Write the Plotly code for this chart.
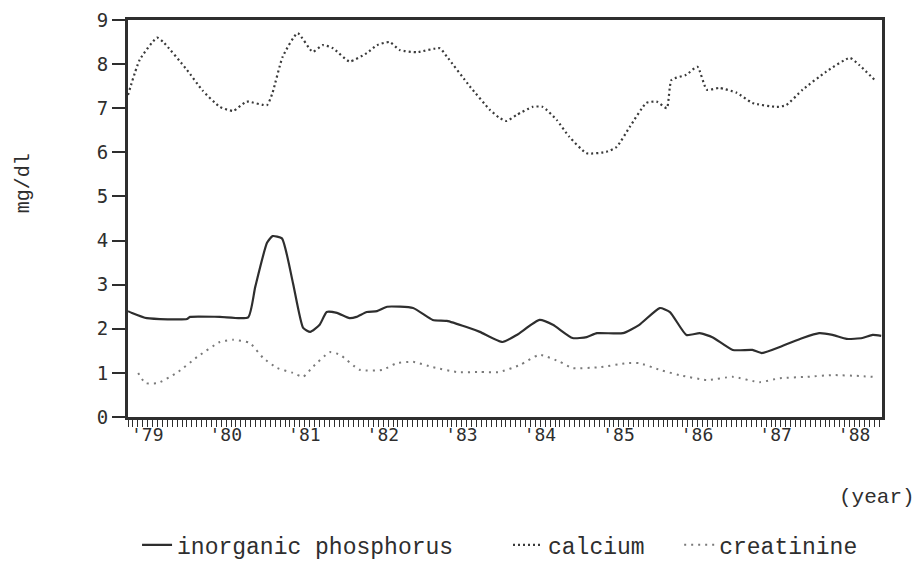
import plotly.graph_objects as go

# ---- data (decimal years, mg/dl) ----
phos_x = [1979.00, 1979.05, 1979.24, 1979.75, 1979.79, 1980.17, 1980.53, 1980.62, 1980.77, 1980.84,
          1980.96, 1981.10, 1981.23, 1981.32, 1981.44, 1981.53, 1981.66, 1981.82, 1981.91, 1982.04,
          1982.17, 1982.30, 1982.63, 1982.88, 1983.06, 1983.31, 1983.48, 1983.77, 1983.95, 1984.24,
          1984.41, 1984.66, 1984.84, 1984.97, 1985.30, 1985.51, 1985.77, 1985.90, 1986.11, 1986.28,
          1986.44, 1986.70, 1986.95, 1987.07, 1987.33, 1987.59, 1987.80, 1987.97, 1988.15, 1988.35,
          1988.48, 1988.59]
phosphorus = [2.40, 2.36, 2.24, 2.22, 2.27, 2.27, 2.26, 2.95, 3.95, 4.10,
              4.05, 3.04, 2.02, 1.93, 2.09, 2.38, 2.36, 2.24, 2.27, 2.38,
              2.40, 2.50, 2.47, 2.20, 2.18, 2.04, 1.93, 1.70, 1.86, 2.20,
              2.09, 1.79, 1.81, 1.90, 1.90, 2.09, 2.47, 2.38, 1.86, 1.90,
              1.81, 1.52, 1.52, 1.45, 1.61, 1.79, 1.90, 1.86, 1.77, 1.79,
              1.86, 1.84]

calc_x = [1979.00, 1979.15, 1979.37, 1979.45, 1979.75, 1979.95, 1980.17, 1980.34, 1980.51, 1980.77,
          1980.84, 1980.97, 1981.16, 1981.35, 1981.48, 1981.61, 1981.82, 1982.04, 1982.17, 1982.33,
          1982.46, 1982.68, 1982.97, 1983.06, 1983.35, 1983.61, 1983.73, 1983.82, 1983.95, 1984.15,
          1984.28, 1984.46, 1984.62, 1984.84, 1985.09, 1985.22, 1985.39, 1985.60, 1985.73, 1985.86,
          1985.92, 1986.11, 1986.25, 1986.37, 1986.53, 1986.75, 1986.95, 1987.26, 1987.38, 1987.59,
          1987.89, 1988.19, 1988.31, 1988.53]
calcium = [7.30, 8.10, 8.60, 8.50, 7.87, 7.40, 7.03, 6.94, 7.15, 7.07,
           7.35, 8.17, 8.70, 8.28, 8.43, 8.36, 8.06, 8.25, 8.43, 8.50,
           8.32, 8.27, 8.36, 8.17, 7.50, 6.96, 6.78, 6.71, 6.85, 7.03,
           7.03, 6.73, 6.35, 5.98, 6.01, 6.12, 6.58, 7.12, 7.15, 7.00,
           7.64, 7.76, 7.94, 7.42, 7.46, 7.35, 7.12, 7.03, 7.07, 7.42,
           7.83, 8.14, 7.98, 7.60]

crea_x = [1979.13, 1979.22, 1979.38, 1979.62, 1979.88, 1980.17, 1980.34, 1980.55, 1980.72, 1980.90,
          1981.10, 1981.23, 1981.35, 1981.57, 1981.70, 1981.95, 1982.24, 1982.42, 1982.63, 1982.88,
          1983.19, 1983.48, 1983.73, 1983.99, 1984.24, 1984.50, 1984.66, 1985.01, 1985.35, 1985.51,
          1985.77, 1986.02, 1986.37, 1986.70, 1987.04, 1987.30, 1987.64, 1987.97, 1988.31, 1988.48]
creatinine = [1.00, 0.77, 0.77, 1.00, 1.36, 1.70, 1.75, 1.68, 1.34, 1.11,
              1.00, 0.91, 1.13, 1.47, 1.41, 1.07, 1.07, 1.22, 1.25, 1.13,
              1.02, 1.02, 1.02, 1.18, 1.41, 1.25, 1.11, 1.13, 1.22, 1.22,
              1.07, 0.95, 0.84, 0.91, 0.79, 0.88, 0.91, 0.95, 0.93, 0.91]

years = [1979, 1980, 1981, 1982, 1983, 1984, 1985, 1986, 1987, 1988]
year_labels = ["'79", "'80", "'81", "'82", "'83", "'84", "'85", "'86", "'87", "'88"]
y_ticks = [0, 1, 2, 3, 4, 5, 6, 7, 8, 9]

MONO = "Liberation Mono, Courier New, monospace"
SANSMONO = "DejaVu Sans Mono, monospace"
INK = "#2e2e2e"

fig = go.Figure()
fig.add_trace(go.Scatter(x=phos_x, y=phosphorus, mode="lines", name="inorganic phosphorus",
                         line=dict(color=INK, width=2.2, shape="spline", smoothing=0.5),
                         legend="legend"))
fig.add_trace(go.Scatter(x=calc_x, y=calcium, mode="lines", name="calcium",
                         line=dict(color="#3a3a3a", width=2.2, dash="2px,3px", shape="spline", smoothing=0.5),
                         legend="legend2"))
fig.add_trace(go.Scatter(x=crea_x, y=creatinine, mode="lines", name="creatinine",
                         line=dict(color="#7a7a7a", width=2, dash="2px,5px", shape="spline", smoothing=0.5),
                         legend="legend3"))

legend_common = dict(orientation="h", yanchor="middle", xanchor="left",
                     font=dict(family=MONO, size=23, color=INK),
                     bgcolor="rgba(0,0,0,0)", itemwidth=30)
fig.update_layout(
    width=920, height=568,
    margin=dict(l=120, r=46, t=12, b=159, autoexpand=False),
    paper_bgcolor="white", plot_bgcolor="white",
    showlegend=True,
    legend=dict(x=0.012, y=-0.322, **legend_common),
    legend2=dict(x=0.504, y=-0.322, **legend_common),
    legend3=dict(x=0.731, y=-0.322, **legend_common),
    xaxis=dict(range=[1979.0, 1988.6], tickmode="array",
               tickvals=[y + 0.245 for y in years], ticktext=year_labels,
               ticks="", showgrid=False, zeroline=False,
               showline=True, linecolor=INK, linewidth=2.5, mirror=True,
               tickfont=dict(family=SANSMONO, size=18, color=INK),
               minor=dict(ticks="outside", ticklen=7, tickwidth=1.3, tickcolor=INK,
                          tickmode="linear", tick0=1979.0, dtick=0.0625, showgrid=False)),
    yaxis=dict(range=[0, 9], tickmode="array", tickvals=y_ticks,
               ticktext=[str(v) for v in y_ticks],
               ticks="outside", ticklen=13, tickwidth=2, tickcolor=INK,
               showgrid=False, zeroline=False,
               showline=True, linecolor=INK, linewidth=2.8, mirror=True,
               tickfont=dict(family=SANSMONO, size=19, color=INK)),
    annotations=[
        dict(text="mg/dl", xref="paper", yref="paper", x=-0.139, y=0.589,
             xanchor="center", yanchor="middle", textangle=-90, showarrow=False,
             font=dict(family=MONO, size=20, color=INK)),
        dict(text="(year)", xref="paper", yref="paper", x=1.046, y=-0.204,
             xanchor="right", yanchor="middle", showarrow=False,
             font=dict(family=MONO, size=21, color=INK)),
    ],
)

fig.write_html("out.html")
